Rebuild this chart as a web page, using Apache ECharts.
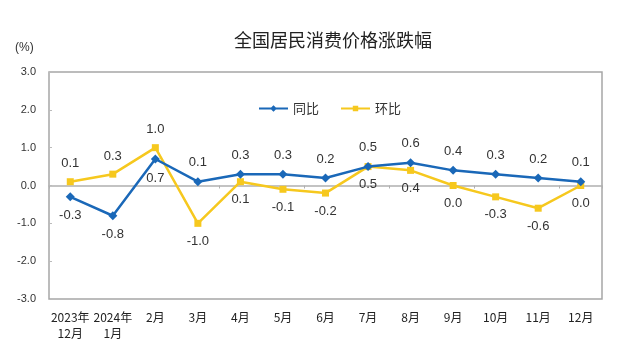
<!DOCTYPE html>
<html><head><meta charset="utf-8">
<script src="https://cdn.jsdelivr.net/npm/echarts@6/dist/echarts.min.js"></script>
<style>html,body{margin:0;padding:0;background:#fff}#c{width:634px;height:355px}</style>
</head><body><div id="c"></div>
<script>
const categories = ['2023年\n12月','2024年\n1月','2月','3月','4月','5月','6月','7月','8月','9月','10月','11月','12月'];
const yoy = [-0.3,-0.8,0.7,0.1,0.3,0.3,0.2,0.5,0.6,0.4,0.3,0.2,0.1];
const mom = [0.1,0.3,1.0,-1.0,0.1,-0.1,-0.2,0.5,0.4,0.0,-0.3,-0.6,0.0];
const yoyLabelPos = ['bottom','bottom','bottom','top','top','top','top','top','top','top','top','top','top'];
const momLabelPos = ['top','top','top','bottom','bottom','bottom','bottom','bottom','bottom','bottom','bottom','bottom','bottom'];

const chart = echarts.init(document.getElementById('c'));
const lblFont = {fontFamily:'Liberation Sans, Arial, sans-serif', fontSize:13, color:'#333'};
chart.setOption({
  animation:false,
  title:{text:'全国居民消费价格涨跌幅', left:229, top:26,
    textStyle:{fontFamily:'Noto Sans CJK SC', fontSize:18, fontWeight:'normal', color:'#222'}},
  legend:{top:97, left:254, itemGap:22, itemWidth:29, itemHeight:7,
    textStyle:{fontFamily:'Noto Sans CJK SC', fontSize:13, color:'#333'},
    data:[{name:'同比', icon:'path://M0,2.6 L30,2.6 L30,4.9 L0,4.9 Z M15,0.3 L18.5,3.75 L15,7.2 L11.5,3.75 Z'},
          {name:'环比', icon:'path://M0,2.6 L30,2.6 L30,4.9 L0,4.9 Z M12.2,0.9 L17.8,0.9 L17.8,6.6 L12.2,6.6 Z'}]},
  graphic:[{type:'text', left:15, top:42, style:{text:'(%)', font:'12px "Liberation Sans", Arial', fill:'#333'}}],
  grid:{left:49, right:32, top:72, bottom:56, show:true, borderColor:'#a6a6a6', borderWidth:1.5},
  xAxis:[{
    type:'category', data:categories, position:'bottom',
    axisLine:{show:false, onZero:false}, axisTick:{show:false},
    axisLabel:{fontFamily:'Noto Sans CJK SC', fontSize:12, color:'#222', margin:10, lineHeight:16, interval:0}
  },{
    type:'category', data:categories, position:'bottom',
    axisLine:{show:true, onZero:true, lineStyle:{color:'#b0b0b0', width:1.5}},
    axisTick:{show:true, inside:false, length:3, lineStyle:{color:'#b0b0b0'}},
    axisLabel:{show:false}
  }],
  yAxis:{type:'value', min:-3, max:3, interval:1,
    axisLine:{show:false}, splitLine:{show:false},
    axisTick:{show:true, inside:true, length:3, lineStyle:{color:'#bbb'}},
    axisLabel:{formatter:v=>v.toFixed(1), fontFamily:'Liberation Sans, Arial', fontSize:11, color:'#333', margin:13}},
  series:[{
    name:'同比', type:'line', data:yoy.map((v,i)=>({value:v, label:{position:yoyLabelPos[i]}})),
    symbol:'diamond', symbolSize:9, itemStyle:{color:'#1a68b8'}, lineStyle:{width:2.5, color:'#1a68b8'},
    label:{show:true, formatter:p=>p.value.toFixed(1), distance:8, ...lblFont}, z:3
  },{
    name:'环比', type:'line', data:mom.map((v,i)=>({value:v, label:{position:momLabelPos[i]}})),
    symbol:'rect', symbolSize:7, itemStyle:{color:'#f6c81e'}, lineStyle:{width:2.5, color:'#f6c81e'},
    label:{show:true, formatter:p=>p.value.toFixed(1), distance:8, ...lblFont}, z:2
  }]
});
</script></body></html>
